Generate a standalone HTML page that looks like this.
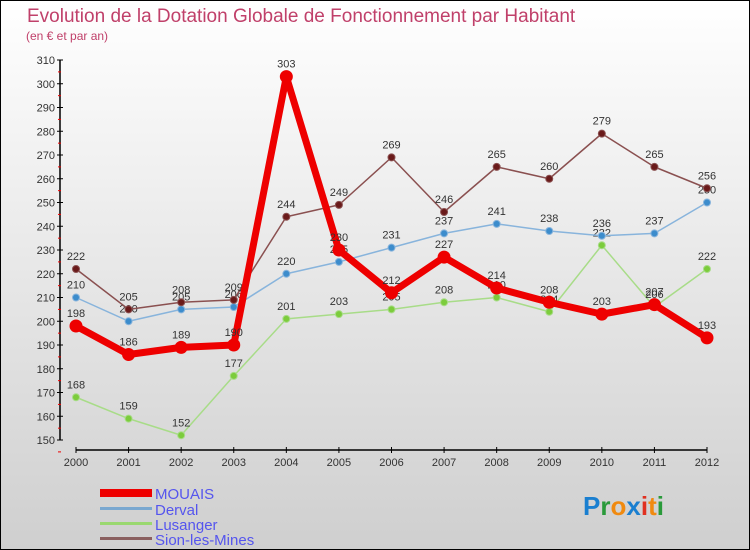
<!DOCTYPE html>
<html><head><meta charset="utf-8"><style>
body{margin:0}
#c{width:750px;height:550px;position:relative;box-sizing:border-box;border:1px solid #000;background:linear-gradient(#fff,#cfcfcf);font-family:"Liberation Sans",sans-serif;overflow:hidden}
</style></head><body>
<div id="c">
<svg width="750" height="550" style="position:absolute;left:-1px;top:-1px" id="svg">
<text x="27" y="22" font-size="19" fill="#c0406a">Evolution de la Dotation Globale de Fonctionnement par Habitant</text>
<text x="26" y="40" font-size="12" fill="#c0406a">(en € et par an)</text>
<g id="axes"></g><g id="series"></g>
<g>
<rect x="100" y="489" width="52" height="8" fill="#e00"/>
<text x="155" y="499" font-size="15" fill="#5555ee">MOUAIS</text>
<rect x="100" y="507" width="52" height="3" fill="#7aa8d0"/>
<text x="155" y="515" font-size="15" fill="#5555ee">Derval</text>
<rect x="100" y="522" width="52" height="3" fill="#9ad870"/>
<text x="155" y="530" font-size="15" fill="#5555ee">Lusanger</text>
<rect x="100" y="537" width="52" height="3" fill="#8a6060"/>
<text x="155" y="545" font-size="15" fill="#5555ee">Sion-les-Mines</text>
</g>
<text x="583" y="515" font-size="26" font-weight="bold"><tspan fill="#1a7fd0">P</tspan><tspan fill="#2a9a3a">r</tspan><tspan fill="#f08a10">o</tspan><tspan fill="#1a7fd0">x</tspan><tspan fill="#e03020">i</tspan><tspan fill="#f08a10">t</tspan><tspan fill="#2a9a3a">i</tspan></text>
</svg>
</div>
<script>
const years=["2000","2001","2002","2003","2004","2005","2006","2007","2008","2009","2010","2011","2012"];
const yTicks=[150,160,170,180,190,200,210,220,230,240,250,260,270,280,290,300,310];
const mouais=[198,186,189,190,303,230,212,227,214,208,203,207,193];
const derval=[210,200,205,206,220,225,231,237,241,238,236,237,250];
const lusanger=[168,159,152,177,201,203,205,208,210,204,232,206,222];
const sion=[222,205,208,209,244,249,269,246,265,260,279,265,256];
const NS="http://www.w3.org/2000/svg";
const X=i=>76+i*(707-76)/12;
const Y=v=>440-(v-150)*380/160;
function mk(t,a,p){const e=document.createElementNS(NS,t);for(const k in a)e.setAttribute(k,a[k]);p.appendChild(e);return e;}
const ax=document.getElementById('axes');
let l=mk('line',{x1:60,y1:Y(310),x2:60,y2:Y(150),stroke:'#000','stroke-width':1.5},ax);


l=mk('line',{x1:76,y1:450,x2:707,y2:450,stroke:'#000','stroke-width':1.5},ax);


yTicks.forEach(v=>{const y=Y(v);mk('line',{x1:57,y1:y,x2:63,y2:y,stroke:'#000'},ax);
mk('line',{x1:58,y1:y+11.9,x2:61,y2:y+11.9,stroke:'#e00'},ax);
const t=mk('text',{x:55,y:y+4,'font-size':11,fill:'#333','text-anchor':'end'},ax);t.textContent=v;

});
years.forEach((yr,i)=>{const x=X(i);mk('line',{x1:x,y1:447,x2:x,y2:453,stroke:'#000'},ax);
const t=mk('text',{x:x,y:466,'font-size':11,fill:'#333','text-anchor':'middle'},ax);t.textContent=yr;

});
const sg=document.getElementById('series');
function series(d,name,col,dot,w,r){const g=mk('g',{},sg);


mk('polyline',{points:d.map((v,i)=>X(i)+','+Y(v)).join(' '),fill:'none',stroke:col,'stroke-width':w,'stroke-linejoin':'round'},g);
d.forEach((v,i)=>{const c=mk('circle',{cx:X(i),cy:Y(v),r:r,fill:dot,stroke:col,'stroke-width':1},g);


const t=mk('text',{x:X(i),y:Y(v)-9,'font-size':11,fill:'#333','text-anchor':'middle'},g);t.textContent=v;

});}
series(lusanger,'lusanger','#a8dc88','#7ccc3c',1.5,3.5);
series(derval,'derval','#88b4dc','#3c8ccc',1.5,3.5);
series(sion,'sion','#8a5050','#6a1a1a',1.5,3.5);
series(mouais,'mouais','#ee0000','#ee0000',7,6);
</script>
</body></html>
